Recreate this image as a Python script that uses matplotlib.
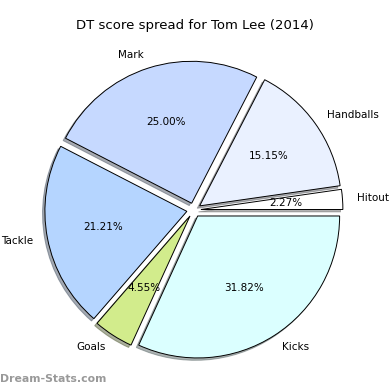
import matplotlib
matplotlib.use("Agg")
import matplotlib.pyplot as plt

labels = ["Hitout", "Handballs", "Mark", "Tackle", "Goals", "Kicks"]
points = [3, 20, 33, 28, 6, 42]
colors = ["#ffffff", "#eaf1ff", "#c6d9ff", "#b5d5ff", "#d2ec8c", "#dbffff"]
explode = [0.05] * len(points)

fig = plt.figure(figsize=(3.9, 3.9), dpi=100)
ax = fig.add_axes([0.042, 0.0065, 0.91, 0.91])

wedges, texts, autotexts = ax.pie(
    points, labels=labels, colors=colors, explode=explode,
    autopct="%.2f%%", shadow={"ox": -0.012, "oy": -0.012, "shade": 0.6},
    startangle=0,
    wedgeprops={"edgecolor": "black", "linewidth": 0.7},
    textprops={"fontsize": 7.5},
)
ax.set_aspect("equal")

fig.text(0.5, 0.935, "DT score spread for Tom Lee (2014)", ha="center", va="center", fontsize=9.5)
fig.text(0.0, 0.027, "Dream-Stats.com", ha="left", va="center", fontsize=7.8,
         color="#999999", fontweight="bold")

fig.savefig("out.png", dpi=100)
